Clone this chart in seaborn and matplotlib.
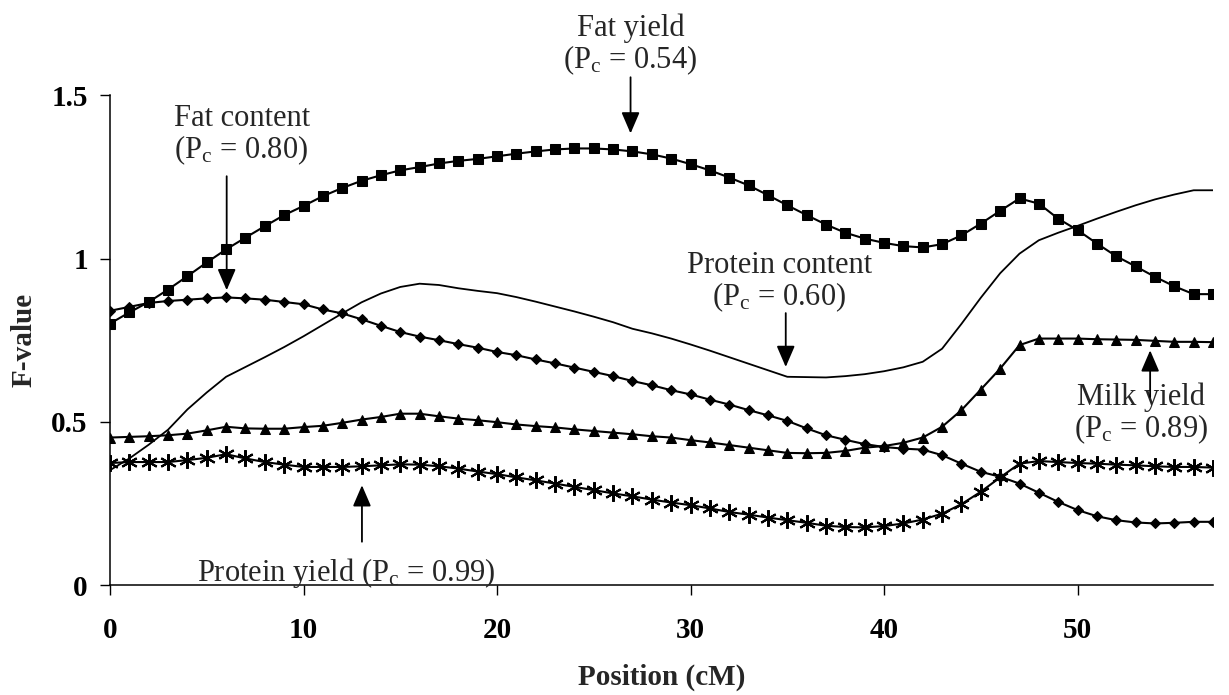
import numpy as np
import pandas as pd
import seaborn as sns
import matplotlib
matplotlib.use("Agg")
import matplotlib.pyplot as plt

# -----------------------------
# Data (F-values, 1 cM steps)
# -----------------------------
position = list(range(0, 58))

fat_yield = [0.801, 0.835, 0.867, 0.905, 0.946, 0.988, 1.028, 1.064, 1.099, 1.133,
             1.161, 1.191, 1.216, 1.238, 1.255, 1.270, 1.280, 1.291, 1.299, 1.305,
             1.313, 1.321, 1.328, 1.334, 1.337, 1.337, 1.334, 1.328, 1.319, 1.306,
             1.289, 1.270, 1.248, 1.224, 1.194, 1.163, 1.133, 1.104, 1.079, 1.061,
             1.048, 1.038, 1.034, 1.044, 1.071, 1.107, 1.146, 1.184, 1.168, 1.122,
             1.087, 1.046, 1.007, 0.976, 0.944, 0.915, 0.891, 0.891]

fat_content = [0.840, 0.852, 0.864, 0.870, 0.874, 0.878, 0.881, 0.878, 0.874, 0.867,
               0.860, 0.844, 0.832, 0.814, 0.794, 0.775, 0.761, 0.750, 0.738, 0.727,
               0.714, 0.704, 0.691, 0.679, 0.666, 0.653, 0.640, 0.625, 0.612, 0.597,
               0.584, 0.568, 0.553, 0.536, 0.520, 0.503, 0.480, 0.459, 0.445, 0.432,
               0.423, 0.418, 0.415, 0.398, 0.372, 0.347, 0.332, 0.311, 0.283, 0.255,
               0.230, 0.211, 0.199, 0.192, 0.189, 0.191, 0.194, 0.194]

milk_yield = [0.452, 0.454, 0.456, 0.459, 0.464, 0.474, 0.485, 0.480, 0.479, 0.479,
              0.484, 0.488, 0.497, 0.507, 0.515, 0.525, 0.525, 0.517, 0.510, 0.505,
              0.499, 0.492, 0.487, 0.483, 0.477, 0.472, 0.467, 0.462, 0.456, 0.452,
              0.444, 0.437, 0.429, 0.421, 0.413, 0.405, 0.404, 0.405, 0.411, 0.421,
              0.426, 0.436, 0.452, 0.485, 0.536, 0.599, 0.663, 0.735, 0.755, 0.755,
              0.755, 0.753, 0.752, 0.751, 0.748, 0.745, 0.745, 0.744]

protein_yield = [0.374, 0.377, 0.377, 0.377, 0.383, 0.390, 0.401, 0.388, 0.377, 0.369,
                 0.362, 0.362, 0.362, 0.364, 0.367, 0.370, 0.369, 0.364, 0.357, 0.348,
                 0.340, 0.330, 0.321, 0.311, 0.301, 0.291, 0.281, 0.272, 0.262, 0.253,
                 0.245, 0.235, 0.224, 0.216, 0.207, 0.199, 0.191, 0.182, 0.178, 0.177,
                 0.181, 0.189, 0.201, 0.219, 0.248, 0.286, 0.330, 0.372, 0.380, 0.377,
                 0.374, 0.372, 0.369, 0.367, 0.364, 0.362, 0.362, 0.360]

protein_content = [0.352, 0.388, 0.430, 0.476, 0.538, 0.590, 0.638, 0.668, 0.698, 0.729,
                   0.762, 0.797, 0.832, 0.866, 0.893, 0.913, 0.923, 0.919, 0.909, 0.901,
                   0.894, 0.882, 0.868, 0.853, 0.838, 0.822, 0.805, 0.785, 0.771, 0.755,
                   0.737, 0.718, 0.698, 0.678, 0.658, 0.638, 0.637, 0.636, 0.640, 0.646,
                   0.655, 0.667, 0.684, 0.724, 0.800, 0.880, 0.955, 1.015, 1.056, 1.079,
                   1.100, 1.122, 1.143, 1.163, 1.181, 1.196, 1.209, 1.209]

# annotation text, text anchor (cM, F), arrow tail, arrow tip
labels = ["Fat yield\n(P$_\\mathrm{c}$ = 0.54)",
          "Fat content\n(P$_\\mathrm{c}$ = 0.80)",
          "Protein content\n(P$_\\mathrm{c}$ = 0.60)",
          "Milk yield\n(P$_\\mathrm{c}$ = 0.89)",
          "Protein yield (P$_\\mathrm{c}$ = 0.99)"]
label_xy = [(26.9, 1.653), (6.8, 1.377), (34.6, 0.927), (53.3, 0.523), (12.2, 0.037)]
arrow_tail = [(26.9, 1.555), (6.03, 1.252), (34.92, 0.833), (53.75, 0.576), (13.02, 0.133)]
arrow_tip = [(26.9, 1.383), (6.03, 0.903), (34.92, 0.668), (53.75, 0.719), (13.02, 0.306)]

# -----------------------------
# Style
# -----------------------------
sns.set_style("ticks")
plt.rcParams["font.family"] = ["Liberation Serif", "DejaVu Serif"]
plt.rcParams["mathtext.fontset"] = "custom"
plt.rcParams["mathtext.rm"] = "Liberation Serif"
plt.rcParams["mathtext.it"] = "Liberation Serif:italic"

fig, ax = plt.subplots(figsize=(12.29, 6.95), dpi=100)
fig.subplots_adjust(left=0.0895, right=0.987, bottom=0.158, top=0.863)

common = dict(color="black", linewidth=1.5, markeredgecolor="black")
sns.lineplot(x=position, y=fat_yield, marker="s", markersize=7, ax=ax, **common)
sns.lineplot(x=position, y=fat_content, marker="D", markersize=5.5, ax=ax, **common)
sns.lineplot(x=position, y=milk_yield, marker="^", markersize=7.5, ax=ax, **common)
sns.lineplot(x=position, y=protein_yield, marker=(6, 2, 0), markersize=12,
             markeredgewidth=1.5, ax=ax, color="black", linewidth=1.5,
             markeredgecolor="black")
sns.lineplot(x=position, y=protein_content, ax=ax, color="black", linewidth=1.3)

# -----------------------------
# Annotations
# -----------------------------
for txt, xy, tail, tip in zip(labels, label_xy, arrow_tail, arrow_tip):
    ax.text(xy[0], xy[1], txt, ha="center", va="center", fontsize=22,
            linespacing=1.0, clip_on=False)
    ax.annotate("", xy=tip, xytext=tail,
                arrowprops=dict(arrowstyle="-|>,head_length=0.65,head_width=0.28",
                                mutation_scale=20, color="black", lw=1.3,
                                shrinkA=0, shrinkB=0))

# -----------------------------
# Axes
# -----------------------------
ax.set_xlim(0, 57)
ax.set_ylim(0, 1.5)
ax.set_xticks([0, 10, 20, 30, 40, 50])
ax.set_yticks([0, 0.5, 1, 1.5])
ax.set_yticklabels(["0", "0.5", "1", "1.5"])
ax.tick_params(axis="both", direction="out", length=7, width=1, labelsize=21,
               color="black", labelcolor="black")
ax.tick_params(axis="x", pad=16)
ax.tick_params(axis="y", pad=9)
for lab in ax.get_xticklabels() + ax.get_yticklabels():
    lab.set_fontweight("bold")

ax.set_xlabel("Position (cM)", fontsize=21, fontweight="bold", labelpad=14)
ax.set_ylabel("F-value", fontsize=21, fontweight="bold", labelpad=10)

sns.despine(ax=ax)
for side in ["left", "bottom"]:
    ax.spines[side].set_linewidth(1.1)
    ax.spines[side].set_color("black")

plt.savefig("out.png", dpi=100)
plt.close()
